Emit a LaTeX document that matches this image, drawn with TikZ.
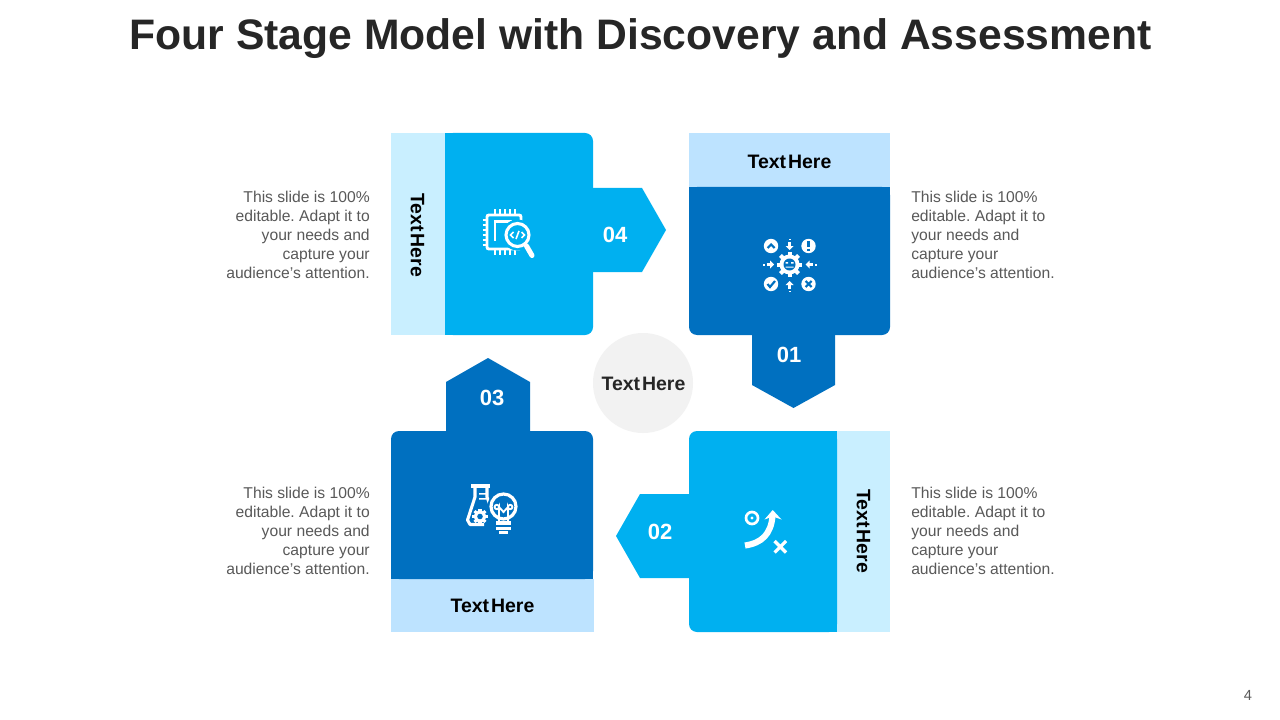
\documentclass[tikz,border=0pt]{standalone}
\usepackage{fontspec}
\setmainfont{Liberation Sans}
\frenchspacing
\definecolor{dkblue}{HTML}{0070C0}
\definecolor{ltblue}{HTML}{00B0F0}
\definecolor{stripA}{HTML}{BDE3FF}
\definecolor{stripB}{HTML}{C9EFFF}
\definecolor{bodytxt}{HTML}{595959}
\definecolor{titletxt}{HTML}{262626}
\definecolor{hubfill}{HTML}{F2F2F2}
\usetikzlibrary{calc}
\tikzset{
  x=0.75pt,y=-0.75pt,
  heading/.style={font=\fontsize{32pt}{36pt}\selectfont\bfseries,text=titletxt,inner sep=0},
  blurbR/.style={font=\fontsize{11.75pt}{14.25pt}\selectfont,text=bodytxt,align=right,anchor=east,inner sep=0},
  blurbL/.style={font=\fontsize{11.75pt}{14.25pt}\selectfont,text=bodytxt,align=left,anchor=west,inner sep=0},
  tag/.style={font=\fontsize{14.6pt}{16pt}\selectfont\bfseries,text=black,inner sep=0},
  num/.style={font=\fontsize{16.5pt}{18pt}\selectfont\bfseries,text=white,inner sep=0},
  cardcorner/.style={rounded corners=6pt},
}
\newcommand{\tagtext}{Text\hspace{0.1em}Here}
\newcommand{\blurbtext}{This slide is 100\%\\editable. Adapt it to\\your needs and\\capture your\\audience’s attention.}
\newcommand{\gearat}[5]{% x y body-r bore-r tooth-width
  \foreach \a in {0,45,...,315}{\draw[white,line width=#5] (#1,#2) ++(\a:#3*0.8) -- ++(\a:#3*0.48);}
  \fill[white] (#1,#2) circle[radius=#3];
  \fill[dkblue] (#1,#2) circle[radius=#4];
}
\begin{document}
\begin{tikzpicture}
\useasboundingbox (0,0) rectangle (1280,720);
\fill[white] (0,0) rectangle (1280,720);
\node[heading] (title) at (640.5,38.5) {Four Stage Model with Discovery and Assessment};

% stage 04
\fill[stripB] (391,133) rectangle (445.5,335);
\fill[ltblue,cardcorner] (445,133) rectangle (593,335);
\fill[ltblue] (445,133) rectangle (470,335);
\fill[ltblue] (592,188) -- (642,188) -- (666,230) -- (642,272) -- (592,272) -- cycle;
% stage 01
\fill[stripA] (689,133) rectangle (890,187.5);
\fill[dkblue,cardcorner] (689,187) rectangle (890,335);
\fill[dkblue] (689,187) rectangle (890,210);
\fill[dkblue] (752,334) -- (835,334) -- (835,385) -- (793.5,408) -- (752,385) -- cycle;
% stage 02
\fill[stripB] (836.5,431) rectangle (890,632);
\fill[ltblue,cardcorner] (689,431) rectangle (837,632);
\fill[ltblue] (810,431) rectangle (837,632);
\fill[ltblue] (690,494) -- (640,494) -- (616,536) -- (640,578) -- (690,578) -- cycle;
% stage 03
\fill[stripA] (391,578.5) rectangle (594,632);
\fill[dkblue,cardcorner] (391,431) rectangle (593,579);
\fill[dkblue] (391,555) rectangle (593,579);
\fill[dkblue] (446,432) -- (446,382) -- (488,358) -- (530,382) -- (530,432) -- cycle;

% hub
\fill[hubfill] (643,383) circle[radius=50];
\node[tag,text=titletxt] (hub) at (643.5,383.5) {\tagtext};

% labels
\node[tag,rotate=-90] (tag04) at (417.5,235) {\tagtext};
\node[tag] (tag01) at (789.5,161.5) {\tagtext};
\node[tag,rotate=-90] (tag02) at (863.5,531) {\tagtext};
\node[tag] (tag03) at (492.5,605.5) {\tagtext};
\node[num] (n04) at (615,235) {04};
\node[num] (n01) at (789,355) {01};
\node[num] (n02) at (660,532) {02};
\node[num] (n03) at (492,398) {03};

% descriptions
\node[blurbR] (d04) at (370,235) {\blurbtext};
\node[blurbL] (d01) at (911,235) {\blurbtext};
\node[blurbR] (d03) at (370,531) {\blurbtext};
\node[blurbL] (d02) at (911,531) {\blurbtext};

\node[font=\fontsize{11pt}{13pt}\selectfont,text=bodytxt,inner sep=0] (pg) at (1248,695) {4};

% icon 04: chip with magnifier
\draw[white,line width=2.2pt,rounded corners=1.5pt] (487,215) rectangle (521,249);
\foreach \x in {495,500,505,510,515}{\draw[white,line width=1.7pt] (\x,209.5) -- (\x,215) (\x,249) -- (\x,254.5);}
\foreach \y in {220,225,230,235,240,245}{\draw[white,line width=1.7pt] (482.5,\y) -- (487,\y);}
\draw[white,line width=1.8pt] (495,241) -- (495,221.5) -- (512,221.5);
\fill[ltblue] (517.5,235) circle[radius=15.5];
\draw[white,line width=2.3pt] (517.5,235) circle[radius=11.5];
\draw[white,line width=1.2pt] (513.5,232) -- (510.5,235) -- (513.5,238) (521.5,232) -- (524.5,235) -- (521.5,238) (519,231) -- (516,239);
\draw[white,line width=3.8pt,line cap=round] (526.5,246) -- (532,255.5);

% icon 01: gear, four badges, four arrows
\gearat{789.5}{264.5}{10}{6}{3pt}
\fill[white] (785.5,262) rectangle (788,263.5) (791,262) rectangle (793.5,263.5) (785.5,266.5) rectangle (793.5,267.7);
\foreach \cx/\cy in {771/246,808.5/246,771/284,808.5/284}{\fill[white] (\cx,\cy) circle[radius=7.2];}
\draw[dkblue,line width=1.6pt] (767.5,248) -- (771,244.5) -- (774.5,248);
\draw[dkblue,line width=1.8pt] (808.5,241.5) -- (808.5,247) (808.5,248.5) -- (808.5,250.5);
\draw[dkblue,line width=1.6pt] (767.5,284) -- (770,287) -- (775,281);
\draw[dkblue,line width=1.6pt] (805.5,281) -- (811.5,287) (811.5,281) -- (805.5,287);
\foreach \a/\px/\py in {-90/789.5/245.5,90/789.5/285.5,0/769.5/264.5,180/810/264.5}{
  \begin{scope}[shift={(\px,\py)},rotate=\a]
    \draw[white,line width=1.6pt] (-3,0) -- (1.5,0);
    \fill[white] (0.5,-4) -- (4.5,0) -- (0.5,4) -- cycle;
    \fill[white] (-6.5,-1) rectangle (-5,1);
  \end{scope}
}

% icon 03: flask and bulb
\fill[white] (471,484) rectangle (490,488);
\draw[white,line width=2.3pt,line join=round] (475,488) -- (475,497) -- (467.5,520) -- (470,524.5) -- (484,524.5);
\draw[white,line width=2.3pt] (487,488) -- (487,497) -- (490,505);
\fill[white] (479,493) rectangle (486,494.5) (479,498) rectangle (486,499.5);
\gearat{480}{516.5}{6}{2.8}{2.3pt}
\fill[dkblue] (503.5,506.5) circle[radius=16];
\draw[white,line width=2.4pt] (503.5,506.5) circle[radius=12.5];
\draw[white,line width=1.4pt] (499,522) -- (499,507) arc[start angle=0,end angle=360,radius=2.2];
\draw[white,line width=1.4pt] (508,522) -- (508,507) arc[start angle=180,end angle=-180,radius=2.2];
\draw[white,line width=1.4pt] (499,507) -- (503.5,512) -- (508,507);
\fill[white] (496,521) rectangle (511,525);
\fill[white] (496,526.5) rectangle (511,529.5);
\fill[white] (499,530.5) rectangle (508,533.5);

% icon 02: route
\draw[white,line width=2pt] (752,518) circle[radius=6];
\fill[white] (752,518) circle[radius=1.7];
\draw[white,line width=4.6pt] (745,545.5) .. controls (762,543) and (771,534) .. (772.5,516);
\fill[white] (764.5,519.5) -- (772.7,510) -- (781.5,519.5) -- (772.7,516.5) -- cycle;
\draw[white,line width=2.4pt] (774.5,541) -- (786,552.5) (786,541) -- (774.5,552.5);
\end{tikzpicture}
\end{document}
